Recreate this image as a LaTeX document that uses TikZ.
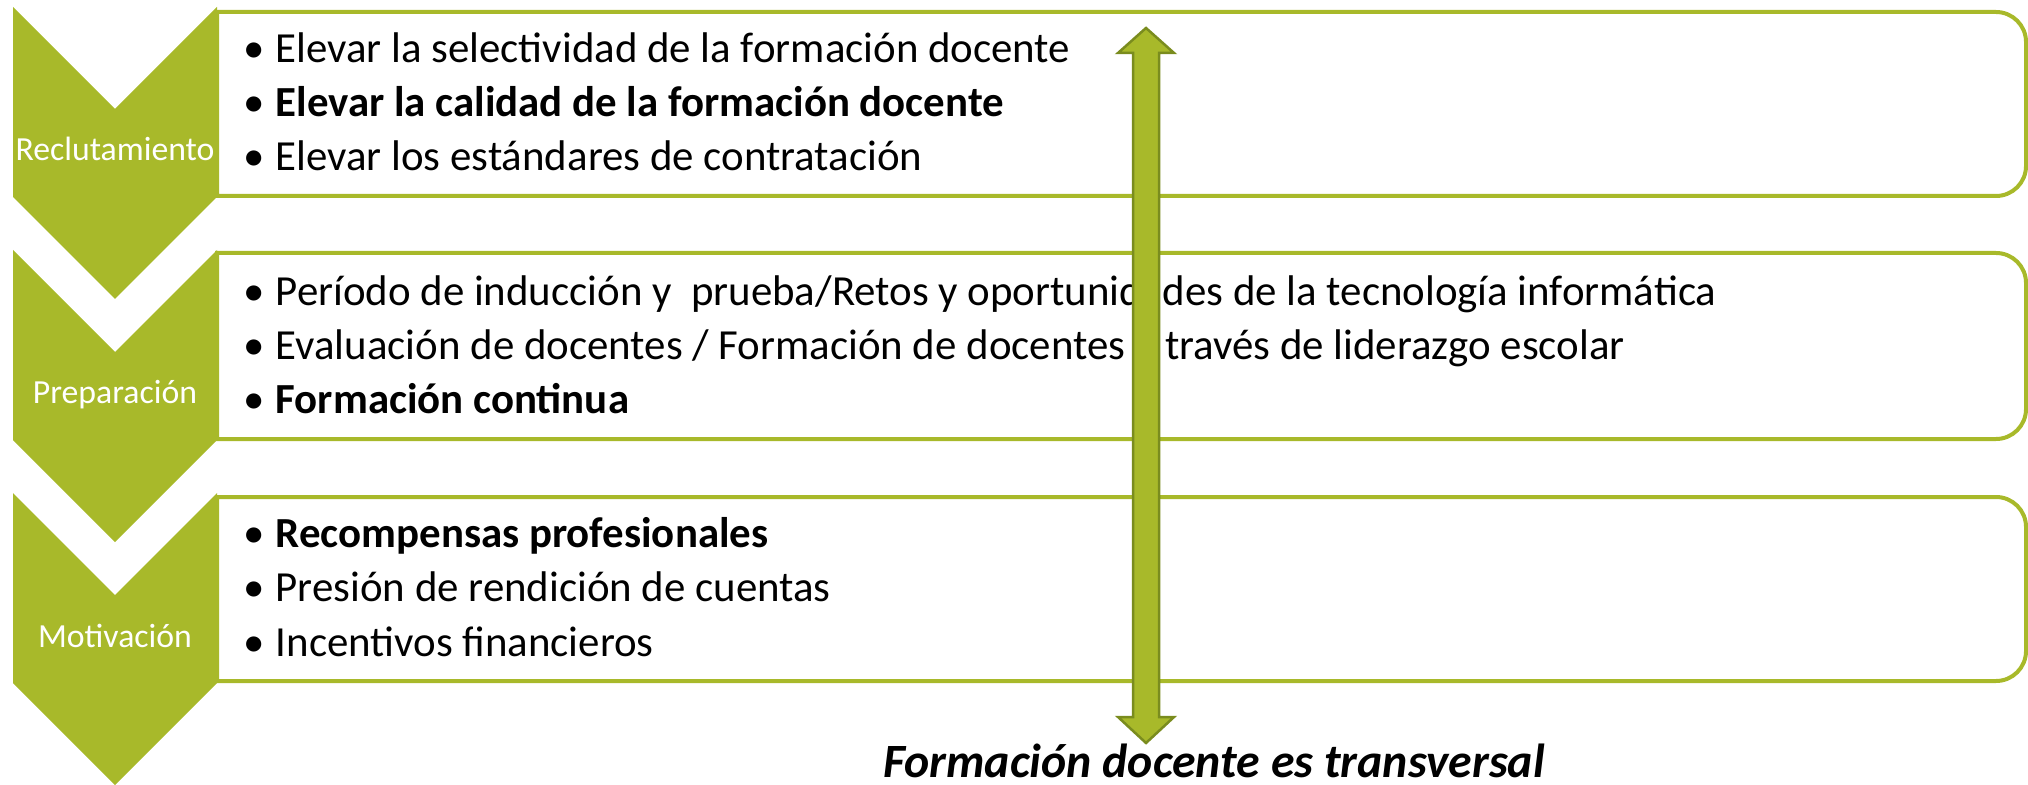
\documentclass[tikz,border=0pt]{standalone}
\usepackage{fontspec}
\setmainfont{Carlito}
\usepackage{tikz}

\definecolor{olive}{RGB}{168,185,42}
\definecolor{olivedark}{RGB}{122,140,30}
\newcommand{\bul}{\makebox[3.2mm][l]{\textbullet}}

\begin{document}
\begin{tikzpicture}[x=0.1mm,y=-0.1mm,
  chevron/.style={fill=olive},
  panel/.style={draw=olive,line width=0.4mm},
  stage/.style={text=white,font=\fontsize{9.6}{11}\selectfont,anchor=base,inner sep=0},
  items/.style={align=left,anchor=base west,inner sep=0,font=\fontsize{12.2}{15.5}\selectfont},
  span/.style={fill=olive,draw=olivedark,line width=0.25mm}]
\useasboundingbox (0,0) rectangle (2028,785);

% panels
\draw[panel] (217,196) -- (217,12) -- (1996,12) arc[start angle=90,end angle=0,radius=3mm]
    -- (2026,166) arc[start angle=0,end angle=-90,radius=3mm] -- cycle;
\draw[panel] (217,439) -- (217,253) -- (1996,253) arc[start angle=90,end angle=0,radius=3mm]
    -- (2026,409) arc[start angle=0,end angle=-90,radius=3mm] -- cycle;
\draw[panel] (217,681) -- (217,497) -- (1996,497) arc[start angle=90,end angle=0,radius=3mm]
    -- (2026,651) arc[start angle=0,end angle=-90,radius=3mm] -- cycle;

% chevrons
\fill[chevron] (13,7) -- (115,109) -- (217,7) -- (217,197) -- (115,299) -- (13,197) -- cycle;
\fill[chevron] (13,250) -- (115,352) -- (217,250) -- (217,440) -- (115,542) -- (13,440) -- cycle;
\fill[chevron] (13,493) -- (115,595) -- (217,493) -- (217,683) -- (115,785) -- (13,683) -- cycle;

\node[stage] (recl) at (115,161) {Reclutamiento};
\node[stage] (prep) at (115,404) {Preparación};
\node[stage] (moti) at (115,647) {Motivación};

% base of a multi-line node = last line
\node[items] (reclitems) at (243,171) {\bul Elevar la selectividad de la formación docente\\
  \bul\textbf{Elevar la calidad de la formación docente}\\
  \bul Elevar los estándares de contratación};
\node[items] (prepitems) at (243,414) {\bul Período de inducción y\ \ prueba/Retos y oportunidades de la tecnología informática\\
  \bul Evaluación de docentes / Formación de docentes a través de liderazgo escolar\\
  \bul\textbf{Formación continua}};
\node[items] (motiitems) at (243,656) {\bul\textbf{Recompensas profesionales}\\
  \bul Presión de rendición de cuentas\\
  \bul Incentivos financieros};

% two-way arrow
\filldraw[span] (1146,28) -- (1174,53) -- (1159,53) -- (1159,717) -- (1174,717) -- (1146,743)
    -- (1118,717) -- (1133,717) -- (1133,53) -- (1118,53) -- cycle;

\node[anchor=base,inner sep=0,font=\fontsize{13.6}{16}\selectfont\bfseries\itshape] (title) at (1214,777)
  {Formación docente es transversal};
\end{tikzpicture}
\end{document}
